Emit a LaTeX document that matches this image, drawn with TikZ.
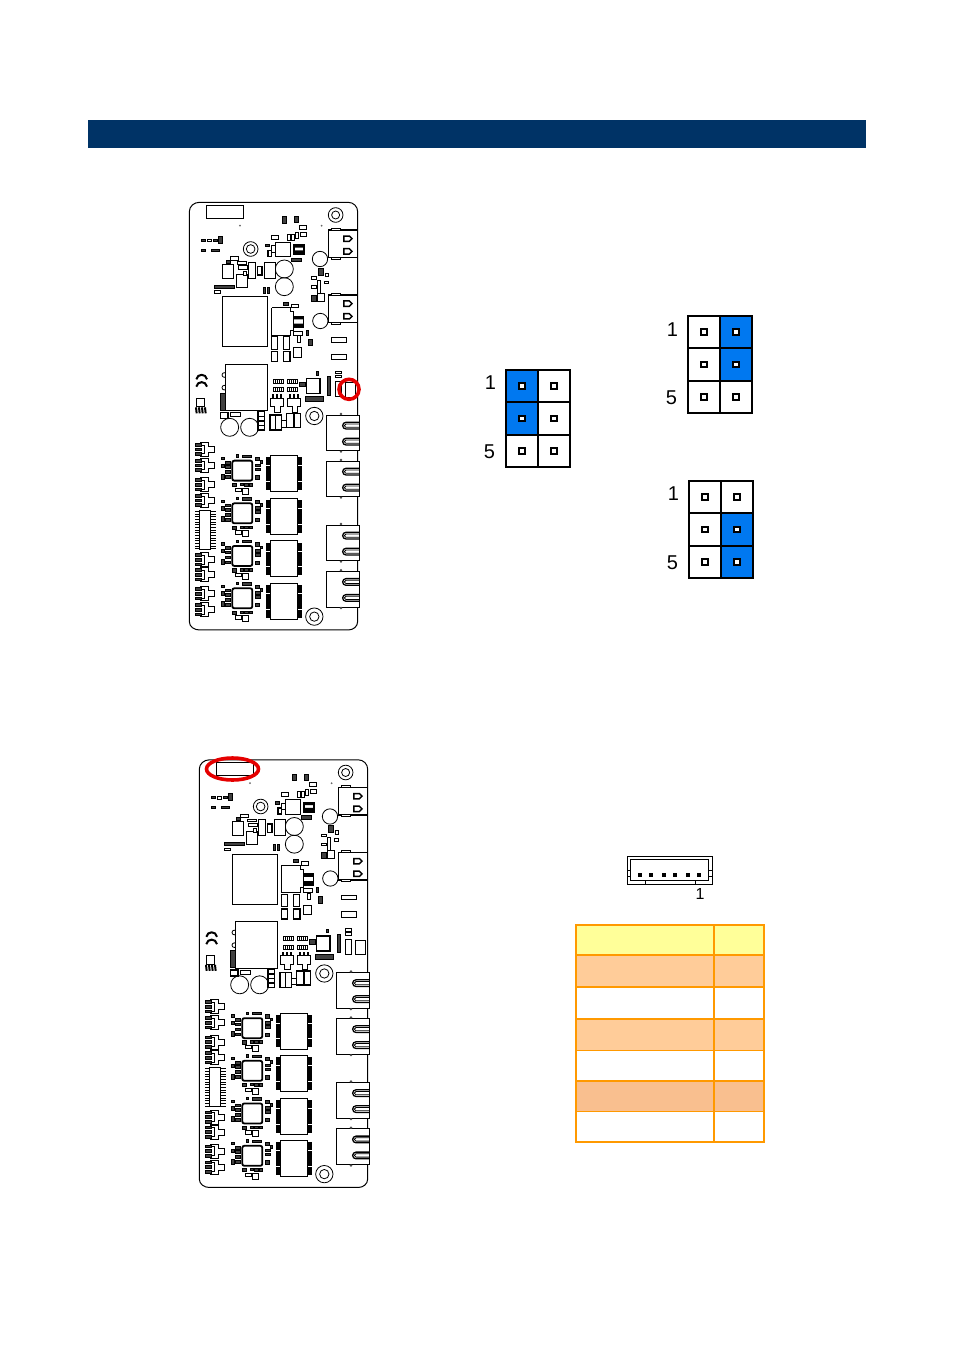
\documentclass[tikz,border=0pt]{standalone}
\usepackage{fontspec}
\setmainfont{Liberation Sans}
\tikzset{
  part/.style={draw=black, line width=.8pt, fill=white},
  dark/.style={draw=black, line width=.8pt, fill=black!75},
  thickpart/.style={draw=black, line width=1.5pt, fill=white},
  ring/.style={draw=red!90!black, line width=3.6pt},
  pinlabel/.style={font=\fontsize{20}{20}\selectfont, inner sep=0pt},
  pin/.style={draw=black, line width=2pt, fill=white},
  grid/.style={draw=black, line width=1.8pt},
  rowline/.style={draw=orange1, line width=2pt}
}
\definecolor{banner}{HTML}{003366}
\definecolor{jumperblue}{HTML}{0078F0}
\definecolor{orange1}{HTML}{FF9900}
\definecolor{head}{HTML}{FFFF99}
\definecolor{peach}{HTML}{FFCC99}
\definecolor{peachb}{HTML}{F9BF8F}

% jumper: upper left corner, then blue cells as col/row
\newcommand{\jumper}[3]{%
  \begin{scope}[shift={(#1,#2)}]
    \foreach \c/\r in {#3} \fill[jumperblue] (32.3*\c,32.3*\r) rectangle ++(32.3,32.3);
    \draw[grid] (0,0) rectangle (64.6,96.9);
    \draw[grid] (32.3,0) -- (32.3,96.9) (0,32.3) -- (64.6,32.3) (0,64.6) -- (64.6,64.6);
    \foreach \c in {0,1} \foreach \r in {0,1,2}
      \draw[pin] (16.15+32.3*\c-2.9,16.15+32.3*\r-2.9) rectangle ++(5.8,5.8);
  \end{scope}}

% one board, drawn in units of a third of a pixel
\newcommand{\placa}[2]{%
  \begin{scope}[shift={(#1,#2)},x=.3333pt,y=-.3333pt]
    % outline
    \draw[line width=1pt] (58,22) -- (505,22) to[out=0,in=90] (533,50) -- (533,1280)
      to[out=-90,in=0] (505,1305) -- (58,1305) to[out=180,in=-90] (28,1280) -- (28,50) to[out=90,in=180] (58,22);
    % holes
    \foreach \x/\y/\ra/\rb in {467/60/22/12, 212/162/22/13, 403/663/26/14, 403/1265/26/14}
      \draw[line width=.8pt] (\x,\y) circle[radius=\ra] (\x,\y) circle[radius=\rb];
    \foreach \x/\y/\ra in {313/222/27, 313/275/27, 420/192/23, 421/378/23, 149/697/27, 209/697/27, 133/540/7, 133/578/7}
      \draw[line width=.8pt] (\x,\y) circle[radius=\ra];
    \fill[black!60] (180,92) circle[radius=3] (425,92) circle[radius=3];
    % big parts and small parts
    \foreach \a/\b/\c/\d in {79/30/189/70, 127/305/263/455, 136/508/263/647, 274/120/294/133,
      322/118/330/135, 335/118/342/135, 358/90/378/102, 360/112/378/124, 345/112/355/130,
      285/142/330/185, 275/152/285/172, 127/207/159/250, 169/237/202/277,
      204/202/227/250, 254/202/286/250, 150/185/175/195, 172/200/200/208,
      175/212/202/222, 190/228/200/240, 102/287/120/295, 82/132/95/140, 393/245/408/253,
      393/272/408/280, 435/235/445/245, 432/258/445/266, 412/255/422/295, 412/295/432/318,
      335/328/355/338, 340/408/368/420, 352/422/362/442, 275/425/292/462, 310/425/328/462,
      340/458/365/487, 453/428/500/442, 455/478/500/494, 467/528/485/536, 467/540/485/548,
      465/560/483/605, 497/563/525/606, 49/610/72/635, 150/653/182/665,
      305/677/318/697}
      \draw[part] (\a,\b) rectangle (\c,\d);
    \foreach \a/\b/\c/\d in {307/65/320/85, 342/65/355/83, 64/133/76/139, 99/133/112/139,
      114/123/127/145, 64/162/76/168, 94/162/119/168, 255/147/268/155,
      335/190/365/200, 102/270/162/280, 140/195/152/205, 249/277/256/295, 261/277/268/295,
      395/300/408/318, 415/220/430/240, 310/322/325/330, 378/405/386/420,
      385/432/398/452, 442/545/450/600, 358/562/375/575, 410/530/416/540, 375/605/430/620,
      121/595/137/645}
      \draw[dark] (\a,\b) rectangle (\c,\d);
    \foreach \a/\b/\c/\d in {264/167/274/185, 232/215/246/240, 275/470/292/500, 310/470/330/500,
      380/550/420/595, 121/653/144/670, 234/650/254/664, 234/664/254/678, 234/678/254/692, 234/692/254/705,
      270/660/287/705, 287/660/304/705, 320/655/340/697, 342/655/362/697}
      \draw[thickpart] (\a,\b) rectangle (\c,\d);
    \draw[part] (275,338) -- (330,338) -- (330,350) -- (340,350) -- (340,405) -- (330,405)
      -- (330,420) -- (275,420) -- (275,405) -- (275,338);
    % pads with dark ends
    \foreach \a/\b/\h in {342/150/28, 340/365/33} {
      \draw[thickpart] (\a,\b) rectangle (\a+30,\b+\h);
      \fill (\a,\b) rectangle (\a+30,\b+8) (\a,\b+\h-12) rectangle (\a+30,\b+\h);
    }
    % pin rows
    \foreach \a/\b in {280/553, 322/553, 280/578, 322/578} {
      \draw[part] (\a,\b) rectangle (\a+31,\b+12);
      \foreach \n in {1,...,4} \draw[line width=.9pt] (\a+\n*6,\b) -- (\a+\n*6,\b+12);
    }
    % regulators
    \foreach \x in {270,322} {
      \draw[part] (\x,610) -- (\x+40,610) -- (\x+40,635) -- (\x+30,635) -- (\x+30,652) -- (\x+14,652) -- (\x+14,635) -- (\x,635) -- cycle;
      \foreach \d in {8,20,32} \fill (\x+\d-3,598) rectangle (\x+\d+3,610);
    }
    % marks
    \foreach \y in {545,567} \draw[line width=2pt] (49,\y+8) .. controls (52,\y-10) and (78,\y-10) .. (81,\y+8);
    \foreach \d in {0,9,18,27} \draw[line width=2pt] (48+\d,637) -- (50+\d,655);
    % usb
    \foreach \y in {105,300} {
      \draw[part] (445,\y) rectangle (533,\y+82);
      \draw[line width=1.6pt] (445,\y) -- (533,\y) -- (533,\y+82) -- (445,\y+82);
      \foreach \d in {18,56} \draw[line width=1.5pt, fill=white] (492,\y+\d) -- (508,\y+\d) -- (516,\y+\d+8) -- (508,\y+\d+16) -- (492,\y+\d+16) -- cycle;
      \draw[part] (455,\y-6) rectangle (480,\y);
      \draw[part] (455,\y+82) rectangle (480,\y+88);
    }
    % network sockets
    \foreach \y in {660,798,990,1129} {
      \draw[part] (438,\y) rectangle (538,\y+107);
      \foreach \d in {22,70} {
        \draw[line width=1.3pt] (538,\y+\d) -- (498,\y+\d) arc[start angle=270,end angle=90,radius=10] -- (538,\y+\d+20);
        \draw[line width=.8pt] (538,\y+\d+5) -- (498,\y+\d+5) arc[start angle=270,end angle=90,radius=5] -- (538,\y+\d+15);
      }
      \fill[black!70] (483,\y-3) circle[radius=4] (483,\y+110) circle[radius=4];
    }
    % small connectors
    \foreach \y in {742,790,848,895,1073,1118,1175,1223} {
      \draw[part] (62,\y) -- (86,\y) -- (86,\y+12) -- (103,\y+12) -- (103,\y+30) -- (86,\y+30) -- (86,\y+42) -- (62,\y+42) -- (62,\y+34) -- (72,\y+34) -- (72,\y+8) -- (62,\y+8) -- cycle;
      \foreach \d in {3,17,31} \draw[dark] (45,\y+\d) rectangle (64,\y+\d+8);
    }
    % long connector
    \draw[part] (58,945) rectangle (92,1063);
    \foreach \n in {0,...,14} {
      \draw[line width=.9pt] (45,949+\n*8) -- (58,949+\n*8);
      \draw[line width=.9pt] (92,949+\n*8) -- (108,949+\n*8);
    }
    % chips and transformers
    \foreach \y in {827,955,1083,1210} {
      \draw[line width=1.8pt, fill=white, rounded corners=2pt] (157,\y-30) rectangle (217,\y+30);
      \foreach \a/\b/\c/\d in {168/-48/176/-41, 188/-47/214/-40, 124/-40/132/-33, 227/-40/238/-30, 240/-30/248/-22,
        136/-28/152/-20, 124/-20/134/-10, 136/-15/152/-7, 227/-20/240/-12, 227/-8/240/0, 136/0/150/8, 125/10/132/25,
        136/15/150/23, 227/15/238/25, 157/38/170/48, 180/38/190/45, 192/38/205/46, 208/38/218/46}
        \draw[dark] (\a,\y+\b) rectangle (\c,\y+\d);
      \draw[part] (165,\y+52) rectangle (183,\y+62);
      \draw[part] (188,\y+52) rectangle (205,\y+70);
      \fill (259,\y-40) rectangle (273,\y+58);
      \fill (353,\y-40) rectangle (367,\y+58);
      \draw[white, line width=.8pt] (259,\y-15) -- (273,\y-15) (259,\y+32) -- (273,\y+32)
        (353,\y-15) -- (367,\y-15) (353,\y+32) -- (367,\y+32);
      \draw[line width=1pt, fill=white] (273,\y-45) rectangle (353,\y+63);
    }
  \end{scope}}

\begin{document}
\begin{tikzpicture}[x=1pt,y=-1pt]
  \useasboundingbox (0,0) rectangle (954,1350);
  \fill[white] (0,0) rectangle (954,1350);
  \fill[banner] (88,120) rectangle (866,148);

  % boards
  \placa{180}{195}
  \placa{190}{752.5}
  \draw[ring] (349,389.3) circle[radius=10];
  \draw[ring] (232.5,769) ellipse[x radius=26, y radius=11];

  % jumpers
  \jumper{505.7}{370}{0/0,0/1}
  \jumper{687.7}{316}{1/0,1/1}
  \jumper{688.7}{481}{1/1,1/2}
  \node[pinlabel] (a1) at (490.5,383) {1};
  \node[pinlabel] (a5) at (489.5,452) {5};
  \node[pinlabel] (b1) at (672.5,330) {1};
  \node[pinlabel] (b5) at (671.5,398) {5};
  \node[pinlabel] (c1) at (673.5,494) {1};
  \node[pinlabel] (c5) at (672.5,563) {5};

  % wafer connector
  \draw[line width=.9pt] (627.3,856.7) rectangle (712.3,884.3);
  \draw[line width=.9pt] (630.3,859.3) rectangle (708.7,880);
  \draw[line width=.9pt] (627.3,870.3) -- (630.3,870.3) (627.3,876.7) -- (630.3,876.7)
    (708.7,870.3) -- (712.3,870.3) (708.7,876.7) -- (712.3,876.7)
    (645.7,880) -- (645.7,884.3) (695.3,880) -- (695.3,884.3);
  \foreach \x in {640,651,664,675,688,699}
    \fill (\x-2,873) rectangle (\x+2,877);
  \node[inner sep=0pt, font=\fontsize{16}{16}\selectfont] (w1) at (700,894.3) {1};

  % pin table
  \fill[head] (575.7,925) rectangle (764,955);
  \foreach \a/\b/\col in {955/987/peach, 1019/1050.3/peach, 1081/1111.7/peachb}
    \fill[\col] (575.7,\a) rectangle (764,\b);
  \foreach \y in {955,987,1019,1081} \draw[rowline] (575.7,\y) -- (764,\y);
  \foreach \y in {1050.3,1111.7} \draw[rowline, line width=1.2pt] (575.7,\y) -- (764,\y);
  \draw[rowline] (714,925) -- (714,1141.7);
  \draw[rowline] (575.7,925) rectangle (764,1141.7);
\end{tikzpicture}
\end{document}
